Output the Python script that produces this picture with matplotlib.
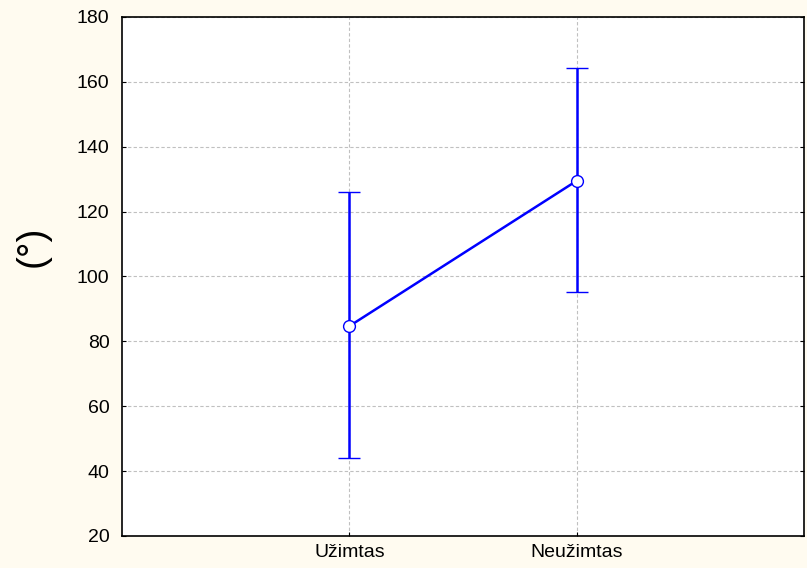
import numpy as np
import matplotlib.pyplot as plt

plt.rcParams['font.family'] = ['Liberation Sans', 'DejaVu Sans']

# duomenys
categories = ['Užimtas', 'Neužimtas']
means = [84.7, 129.5]
upper = [126.2, 164.2]
lower = [44.0, 95.2]

bg = '#fffbf0'
fig = plt.figure(figsize=(8.07, 5.68), dpi=100, facecolor=bg)
ax = fig.add_axes([122 / 807, 1 - 536 / 568, 682 / 807, 519 / 568])
ax.set_facecolor('white')

x = np.arange(len(categories))
m = np.array(means)
err = [m - np.array(lower), np.array(upper) - m]
ax.errorbar(x, m, yerr=err, color='#0000ff', lw=1.8, elinewidth=1.8,
            capsize=8, capthick=1.8, marker='o', markersize=8.5,
            markerfacecolor='white', markeredgecolor='#0000ff', markeredgewidth=1.0,
            zorder=3)

ax.set_xlim(-1, 2)
ax.set_ylim(20, 180)
ax.set_yticks(np.arange(20, 181, 20))
ax.set_xticks(x)
ax.set_xticklabels(categories)
ax.grid(True, color='#c0c0c0', ls=(0, (3, 2)), lw=0.8)
ax.tick_params(axis='both', direction='in', length=3, labelsize=14,
               right=True, top=False)
ax.tick_params(axis='y', pad=9)
ax.tick_params(axis='x', pad=6)
for s in ax.spines.values():
    s.set_linewidth(1.2)
    s.set_color('black')

fig.text(33 / 807, 1 - 246 / 568, '(°)', rotation=90, fontsize=28,
         ha='center', va='center')

fig.savefig('out.png', dpi=100, facecolor=bg)
